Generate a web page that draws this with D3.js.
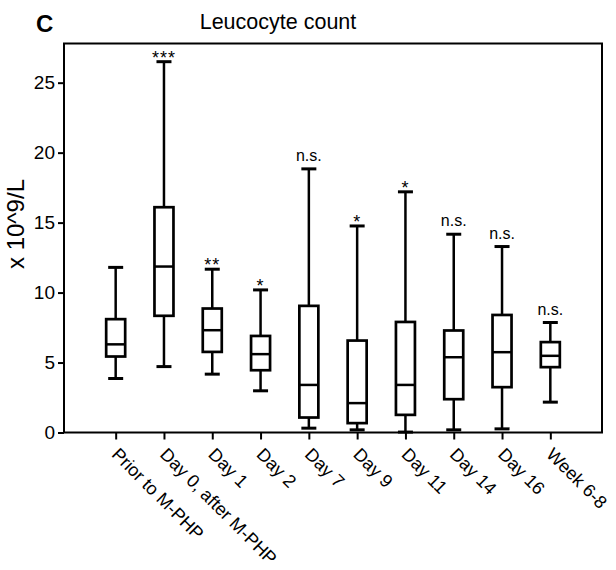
<!DOCTYPE html>
<html><head><meta charset="utf-8">
<script src="https://cdn.jsdelivr.net/npm/d3@7"></script>
<style>body{margin:0;background:#fff;} text{font-family:"Liberation Sans",Arial,sans-serif;fill:#000;}</style>
</head><body>
<svg id="chart" width="616" height="570"></svg>
<script>
const categories = ["Prior to M-PHP","Day 0, after M-PHP","Day 1","Day 2","Day 7","Day 9","Day 11","Day 14","Day 16","Week 6-8"];
const significance = ["","***","**","*","n.s.","*","*","n.s.","n.s.","n.s."];
const minValues    = [3.86, 4.71, 4.17, 2.98, 0.31, 0.19, 0.03, 0.19, 0.26, 2.17];
const q1Values     = [5.43, 8.34, 5.76, 4.45, 1.07, 0.67, 1.26, 2.38, 3.24, 4.67];
const medianValues = [6.30, 11.86, 7.31, 5.60, 3.40, 2.10, 3.40, 5.38, 5.74, 5.48];
const q3Values     = [8.10, 16.10, 8.86, 6.90, 9.05, 6.57, 7.90, 7.29, 8.40, 6.46];
const maxValues    = [11.80, 26.50, 11.67, 10.19, 18.84, 14.76, 17.20, 14.17, 13.29, 7.86];
const yTicks = [0, 5, 10, 15, 20, 25];

const svg = d3.select("#chart");
const m = {left: 64, right: 602, top: 43.5, bottom: 432.5};
const x = d3.scalePoint().domain(categories).range([m.left, m.right]).padding(1.07);
const y = d3.scaleLinear().domain([0, 27.8]).range([m.bottom, m.top]);

const data = categories.map((c, i) => ({c, sig: significance[i], min: minValues[i], q1: q1Values[i], med: medianValues[i], q3: q3Values[i], max: maxValues[i]}));

// frame
svg.append("rect").attr("x", m.left).attr("y", m.top).attr("width", m.right - m.left).attr("height", m.bottom - m.top)
  .attr("fill", "none").attr("stroke", "#000").attr("stroke-width", 2);

// y axis
const yAxis = svg.append("g").attr("transform", `translate(${m.left},0)`)
  .call(d3.axisLeft(y).tickValues(yTicks).tickSize(6).tickPadding(3).tickFormat(d3.format("d")));
yAxis.select(".domain").remove();
yAxis.selectAll(".tick line").attr("stroke", "#000").attr("stroke-width", 2);
yAxis.selectAll(".tick text").style("font-size", "19px").attr("font-family", null);

// x axis
const xAxis = svg.append("g").attr("transform", `translate(0,${m.bottom})`)
  .call(d3.axisBottom(x).tickSize(7).tickFormat(""));
xAxis.select(".domain").remove();
xAxis.selectAll(".tick line").attr("stroke", "#000").attr("stroke-width", 2);
svg.append("g").selectAll("text").data(categories).join("text")
  .attr("transform", d => `translate(${x(d) - 5},${m.bottom + 23}) rotate(45)`)
  .attr("text-anchor", "start")
  .style("font-size", "18px")
  .text(d => d);

// boxes
const bw = 19, cw = 15;
const g = svg.append("g").attr("stroke", "#000").attr("stroke-width", 2.5).attr("fill", "none");
const box = g.selectAll("g").data(data).join("g");
box.append("line").attr("x1", d => x(d.c)).attr("x2", d => x(d.c)).attr("y1", d => y(d.max)).attr("y2", d => y(d.q3));
box.append("line").attr("x1", d => x(d.c)).attr("x2", d => x(d.c)).attr("y1", d => y(d.q1)).attr("y2", d => y(d.min));
box.append("line").attr("x1", d => x(d.c) - cw/2).attr("x2", d => x(d.c) + cw/2).attr("y1", d => y(d.max)).attr("y2", d => y(d.max)).attr("stroke-width", 3);
box.append("line").attr("x1", d => x(d.c) - cw/2).attr("x2", d => x(d.c) + cw/2).attr("y1", d => y(d.min)).attr("y2", d => y(d.min)).attr("stroke-width", 3);
box.append("rect").attr("x", d => x(d.c) - bw/2).attr("width", bw).attr("y", d => y(d.q3)).attr("height", d => y(d.q1) - y(d.q3)).attr("fill", "#fff").attr("stroke-width", 2.7);
box.append("line").attr("x1", d => x(d.c) - bw/2).attr("x2", d => x(d.c) + bw/2).attr("y1", d => y(d.med)).attr("y2", d => y(d.med));

// significance labels
svg.append("g").selectAll("text").data(data.filter(d => d.sig)).join("text")
  .attr("x", d => x(d.c))
  .attr("y", d => d.sig === "n.s." ? y(d.max) - 8 : y(d.max) + 2)
  .attr("text-anchor", "middle")
  .style("font-size", d => d.sig === "n.s." ? "16px" : "18px")
  .style("letter-spacing", d => d.sig === "n.s." ? "0px" : "1px")
  .text(d => d.sig);

// title, panel letter, y label
svg.append("text").attr("x", 278).attr("y", 29).attr("text-anchor", "middle").style("font-size", "21.5px").text("Leucocyte count");
svg.append("text").attr("x", 36).attr("y", 32).style("font-size", "24px").style("font-weight", "bold").text("C");
svg.append("text").attr("transform", "translate(23.5,224) rotate(-90)").attr("text-anchor", "middle").style("font-size", "24px").text("x 10^9/L");
</script>
</body></html>
